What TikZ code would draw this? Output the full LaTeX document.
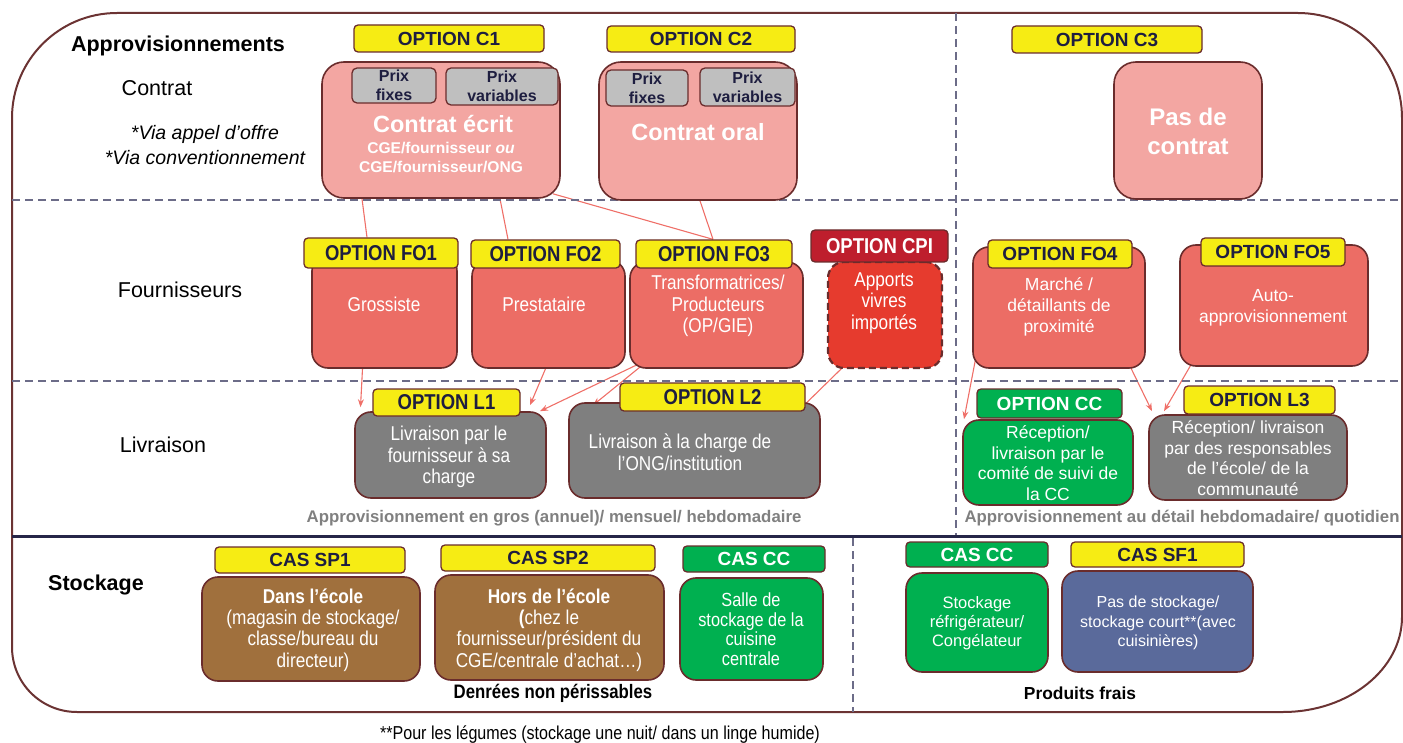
\documentclass[tikz,border=0pt]{standalone}
\usepackage{fontspec}
\setmainfont{Liberation Sans}
\newfontfamily\nar[FakeStretch=0.86]{Liberation Sans}
\usetikzlibrary{arrows.meta,backgrounds,calc}
\definecolor{frame}{HTML}{6B3333}
\definecolor{bord}{HTML}{6A2C2C}
\definecolor{salm}{HTML}{F3A6A2}
\definecolor{gris}{HTML}{BFBFBF}
\definecolor{navy}{HTML}{1E1E40}
\definecolor{yel}{HTML}{F6EC14}
\definecolor{fo}{HTML}{EC6D65}
\definecolor{cpitag}{HTML}{BE1E2D}
\definecolor{cpibody}{HTML}{E63B2E}
\definecolor{liv}{HTML}{7F7F7F}
\definecolor{grn}{HTML}{00B050}
\definecolor{brn}{HTML}{A0703D}
\definecolor{blu}{HTML}{5A6A9B}
\definecolor{arr}{HTML}{EF6F68}
\definecolor{dashc}{HTML}{6C6C88}
\definecolor{sep}{HTML}{262648}
\definecolor{gtxt}{HTML}{808080}
\tikzset{
  sz/.style 2 args={minimum width=#1pt, minimum height=#2pt},
  body/.style={draw=bord, line width=1.6pt, rounded corners=16pt, inner sep=0pt},
  tag/.style={draw=bord, line width=1.3pt, rounded corners=4pt, fill=yel, inner sep=0pt,
    text=navy, font=\fontsize{19}{19}\selectfont\bfseries},
  ntag/.style={tag, font=\nar\fontsize{21.5}{21.5}\selectfont\bfseries},
  prix/.style={draw=bord, line width=1.3pt, rounded corners=5pt, fill=gris, inner sep=0pt,
    text=navy, align=center, font=\fontsize{16}{19}\selectfont\bfseries},
  lab/.style={inner sep=0pt, font=\fontsize{21.5}{24}\selectfont},
  ntxt/.style={inner sep=0pt, text=white, align=center, font=\nar\fontsize{20}{21.5}\selectfont},
  rtxt/.style={inner sep=0pt, text=white, align=center, font=\fontsize{17.5}{21}\selectfont},
  gnote/.style={inner sep=0pt, text=gtxt, font=\fontsize{16.8}{18}\selectfont\bfseries},
  conn/.style={draw=arr, line width=1.1pt},
  arrw/.style={conn, -{Stealth[length=8pt,width=6pt]}},
  dsh/.style={draw=dashc, line width=1.2pt, dash pattern=on 8pt off 5pt},
}
\begin{document}
\begin{tikzpicture}[x=1pt,y=-1pt]
\useasboundingbox (0,0) rectangle (1403,743);
% outer frame
\draw[frame, line width=2pt] (12,400) -- (12,118) .. controls (12,60) and (59,13) .. (117,13)
  -- (1298,13) .. controls (1356,13) and (1402,60) .. (1402,118) -- (1402,617)
  .. controls (1402,669) and (1349,712) .. (1283,712) -- (77,712)
  .. controls (41,712) and (12,683) .. (12,647) -- cycle;
% separators
\draw[dsh] (12,200) -- (1402,200);
\draw[dsh] (12,381) -- (1402,381);
\draw[dsh] (956,13) -- (956,536);
\draw[dsh] (853,538) -- (853,712);
\draw[sep, line width=3pt] (12,536) -- (1402,536);

% row labels
\node[lab, font=\fontsize{21.5}{24}\selectfont\bfseries] (tApp) at (178,46) {Approvisionnements};
\node[lab] (tCon) at (157,88) {Contrat};
\node[lab, align=center, font=\fontsize{19.5}{25}\selectfont\itshape] (tVia) at (205,145) {*Via appel d’offre\\*Via conventionnement};
\node[lab] (tFou) at (180,290) {Fournisseurs};
\node[lab] (tLiv) at (163,445) {Livraison};
\node[lab, font=\fontsize{21.5}{24}\selectfont\bfseries] (tSto) at (96,585) {Stockage};

% contract boxes
\node[body, fill=salm, rounded corners=22pt, sz={238}{136}] (C1) at (441,130) {};
\node[body, fill=salm, rounded corners=22pt, sz={198}{138}] (C2) at (698,131) {};
\node[body, fill=salm, rounded corners=22pt, sz={148}{137}] (C3) at (1188,130.5) {};
\node[prix, sz={84}{35}] (C1pf) at (394,85.5) {Prix\\fixes};
\node[prix, sz={112}{37}] (C1pv) at (502,86.5) {Prix\\variables};
\node[prix, sz={82}{36}] (C2pf) at (647,88) {Prix\\fixes};
\node[prix, sz={95}{38}] (C2pv) at (747.5,87) {Prix\\variables};
\node[inner sep=0pt, text=white, font=\fontsize{23.5}{26}\selectfont\bfseries] (C1t) at (443,124) {Contrat écrit};
\node[inner sep=0pt, text=white, align=center, font=\fontsize{15.6}{19}\selectfont\bfseries] (C1s) at (441,157.5) {CGE/fournisseur \textit{ou}\\CGE/fournisseur/ONG};
\node[inner sep=0pt, text=white, font=\fontsize{23.5}{26}\selectfont\bfseries] (C2t) at (698,132) {Contrat oral};
\node[inner sep=0pt, text=white, align=center, font=\fontsize{24}{29}\selectfont\bfseries] (C3t) at (1188,131.5) {Pas de\\contrat};
\node[tag, sz={190}{27}] (C1tag) at (449,38.5) {OPTION C1};
\node[tag, sz={188}{26}] (C2tag) at (701,39) {OPTION C2};
\node[tag, sz={190}{27}] (C3tag) at (1107,39.5) {OPTION C3};

% fournisseurs
\node[body, fill=fo, sz={145}{113}] (FO1) at (384.5,311.5) {};
\node[body, fill=fo, sz={153}{108}] (FO2) at (548.5,314) {};
\node[body, fill=fo, sz={173}{106}] (FO3) at (716.5,315) {};
\node[body, fill=cpibody, dash pattern=on 7pt off 4pt, line width=2.2pt, sz={114}{106}] (CPI) at (885,315) {};
\node[body, fill=fo, sz={172}{121}] (FO4) at (1059,307.5) {};
\node[body, fill=fo, sz={188}{121}] (FO5) at (1274,305.5) {};
\node[ntxt] (FO1t) at (384,304) {Grossiste};
\node[ntxt] (FO2t) at (544,304) {Prestataire};
\node[ntxt] (FO3t) at (718,306) {Transformatrices/\\Producteurs\\(OP/GIE)};
\node[ntxt] (CPIt) at (884,303) {Apports\\vivres\\importés};
\node[rtxt] (FO4t) at (1059,307) {Marché /\\détaillants de\\proximité};
\node[rtxt] (FO5t) at (1273,308) {Auto-\\approvisionnement};
\node[ntag, sz={154}{30}] (FO1tag) at (381,253) {OPTION FO1};
\node[ntag, sz={149}{28}] (FO2tag) at (545.5,254) {OPTION FO2};
\node[ntag, sz={156}{28}] (FO3tag) at (714,254) {OPTION FO3};
\node[ntag, fill=cpitag, text=white, sz={137}{32}] (CPItag) at (879.5,246) {OPTION CPI};
\node[tag, sz={144}{28}] (FO4tag) at (1060,254) {OPTION FO4};
\node[tag, sz={144}{28}] (FO5tag) at (1273,252) {OPTION FO5};

% livraison
\node[body, fill=liv, sz={191}{86}] (L1) at (450.5,455) {};
\node[body, fill=liv, sz={251}{95}] (L2) at (694.5,450.5) {};
\node[body, fill=grn, sz={170}{85}] (CC) at (1048,462.5) {};
\node[body, fill=liv, sz={198}{85}] (L3) at (1248,457.5) {};
\node[ntxt] (L1t) at (449,457) {Livraison par le\\fournisseur à sa\\charge};
\node[ntxt] (L2t) at (680,452) {Livraison à la charge de\\l’ONG/institution};
\node[rtxt, font=\fontsize{17.5}{20.7}\selectfont] (CCt) at (1048,463) {Réception/\\livraison par le\\comité de suivi de\\la CC};
\node[rtxt, font=\fontsize{17.5}{20.7}\selectfont] (L3t) at (1248,458) {Réception/ livraison\\par des responsables\\de l’école/ de la\\communauté};
\node[ntag, sz={147}{27}] (L1tag) at (446.5,402.5) {OPTION L1};
\node[ntag, sz={185}{28}] (L2tag) at (712.5,397) {OPTION L2};
\node[tag, fill=grn, text=white, sz={145}{29}] (CCtag) at (1049.5,403.5) {OPTION CC};
\node[tag, sz={151}{28}] (L3tag) at (1259.5,400) {OPTION L3};
\node[gnote] (gros) at (554,518) {Approvisionnement en gros (annuel)/ mensuel/ hebdomadaire};
\node[gnote] (detail) at (1182,518) {Approvisionnement au détail hebdomadaire/ quotidien};

% stockage
\node[body, fill=brn, sz={218}{104}] (SP1) at (311,629) {};
\node[body, fill=brn, sz={229}{105}] (SP2) at (549.5,627.5) {};
\node[body, fill=grn, sz={143}{102}] (SCC) at (751.5,629) {};
\node[body, fill=grn, sz={142}{99}] (SCC2) at (977,622.5) {};
\node[body, fill=blu, sz={191}{101}] (SF1) at (1157.5,621.5) {};
\node[ntxt, font=\nar\fontsize{20}{21.3}\selectfont] (SP1t) at (313,630) {\textbf{Dans l’école}\\(magasin de stockage/\\classe/bureau du\\directeur)};
\node[ntxt, font=\nar\fontsize{20}{21.3}\selectfont] (SP2t) at (549,630) {\textbf{Hors de l’école}\\\textbf{(}chez le\\fournisseur/président du\\CGE/centrale d’achat…)};
\node[ntxt, font=\nar\fontsize{19}{19.5}\selectfont] (SCCt) at (751,629) {Salle de\\stockage de la\\cuisine\\centrale};
\node[rtxt, font=\fontsize{16.5}{19}\selectfont] (SCC2t) at (977,623) {Stockage\\réfrigérateur/\\Congélateur};
\node[rtxt, font=\fontsize{16}{19.5}\selectfont] (SF1t) at (1158,623) {Pas de stockage/\\stockage court**(avec\\cuisinières)};
\node[tag, sz={190}{26}] (SP1tag) at (310,560) {CAS SP1};
\node[tag, sz={214}{26}] (SP2tag) at (548,558) {CAS SP2};
\node[tag, fill=grn, text=white, sz={142}{26}] (SCCtag) at (754,559) {CAS CC};
\node[tag, fill=grn, text=white, sz={142}{25}] (SCC2tag) at (977,554.5) {CAS CC};
\node[tag, sz={173}{25}] (SF1tag) at (1157.5,554.5) {CAS SF1};
\node[inner sep=0pt, font=\nar\fontsize{19.5}{20}\selectfont\bfseries] (denr) at (553,693) {Denrées non périssables};
\node[inner sep=0pt, font=\fontsize{17.4}{20}\selectfont\bfseries] (frais) at (1080,693) {Produits frais};
\node[inner sep=0pt, font=\nar\fontsize{18.7}{20}\selectfont] (foot) at (600,735) {**Pour les légumes (stockage une nuit/ dans un linge humide)};

% connectors
\begin{scope}[on background layer]
\draw[conn] ([xshift=-79pt]C1.south) -- ([xshift=-14pt]FO1tag.north);
\draw[conn] ([xshift=59pt]C1.south) -- ([xshift=-37.5pt]FO2tag.north);
\draw[conn] ([xshift=112pt,yshift=5pt]C1.south) -- ([xshift=-1pt]FO3tag.north);
\draw[conn] ([xshift=2pt]C2.south) -- ([xshift=-1pt]FO3tag.north);
\draw[arrw] ([xshift=-22pt]FO1.south) -- ([xshift=-90pt,yshift=4pt]L1.north);
\draw[arrw] ([xshift=-3pt]FO2.south) -- ([xshift=79.5pt,yshift=6pt]L1.north);
\draw[arrw] ([xshift=12pt,yshift=6pt]FO3.south west) -- ([xshift=89.5pt]L1.north);
\draw[arrw] ([xshift=16pt,yshift=6pt]FO3.south west) -- ([xshift=-101.5pt,yshift=-3pt]L2.north);
\draw[arrw] ([xshift=-42pt,yshift=2pt]CPI.south) -- ([xshift=105.5pt,yshift=-7pt]L2.north);
\draw[arrw] ([xshift=3pt,yshift=8pt]FO4.south west) -- ([xshift=-84pt]CC.north);
\draw[arrw] ([xshift=-15pt,yshift=1pt]FO4.south east) -- ([xshift=-96pt,yshift=3pt]L3.north);
\draw[arrw] ([xshift=17pt,yshift=11pt]FO5.south west) -- ([xshift=-84pt,yshift=3pt]L3.north);
\end{scope}
\end{tikzpicture}
\end{document}
